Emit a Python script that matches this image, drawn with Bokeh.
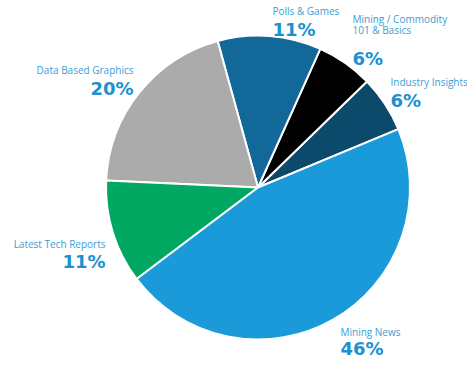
import numpy as np
from bokeh.plotting import figure
from bokeh.models import ColumnDataSource, Range1d
from bokeh.core.properties import value
from bokeh.embed import file_html
from bokeh.resources import INLINE

# ---- data ----
categories = ["Industry Insights", "Mining / Commodity\n101 & Basics", "Polls & Games",
              "Data Based Graphics", "Latest Tech Reports", "Mining News"]
shares = [6, 6, 11, 20, 11, 46]
colors = ["#0c4a6b", "#000000", "#13689a", "#ababab", "#00a862", "#1a9ad9"]
pct_labels = ["6%", "6%", "11%", "20%", "11%", "46%"]

# ---- layout (pixel coordinates of the picture) ----
W, H = 467, 359
DY = 6  # shift everything up so the bottom label fits
CX, CY, R = 257.5, 193 - DY, 152
START_DEG = 22.6
# label anchors: (x, name baseline y, pct baseline y, align)
label_layout = [
    (390, 87.5, 105.5, "left"),
    (352, 35, 64, "left"),
    (272, 16, 35, "left"),
    (133, 75, 94, "right"),
    (105, 249, 267, "right"),
    (340, 337, 354, "left"),
]

p = figure(width=W, height=H, output_backend="svg", toolbar_location=None,
           x_range=Range1d(0, W), y_range=Range1d(-H, 0), min_border=0)
p.axis.visible = False
p.grid.visible = False
p.outline_line_color = None
p.background_fill_color = "white"

vals = np.array(shares, dtype=float)
frac = vals / vals.sum()
ends = np.deg2rad(START_DEG) + 2 * np.pi * np.cumsum(frac)
starts = ends - 2 * np.pi * frac

src = ColumnDataSource(dict(start=starts, end=ends, color=colors,
                            x=[CX] * len(vals), y=[-CY] * len(vals)))
p.wedge(x="x", y="y", radius=R, start_angle="start", end_angle="end",
        fill_color="color", line_color="white", line_width=2, source=src)

name_color = "#3a9ed4"
pct_color = "#1c90d0"
for cat, pct, (lx, ny, py, al) in zip(categories, pct_labels, label_layout):
    lines = cat.split("\n")
    n = len(lines)
    for i, ln in enumerate(lines):
        yb = ny - DY - (n - 1 - i) * 10.5
        p.text(x=[lx], y=[-yb], text=[ln], text_align=al, text_baseline="alphabetic",
               text_font=value("Open Sans"), text_font_size="10px", text_color=name_color)
    p.text(x=[lx], y=[-(py - DY)], text=[pct], text_align=al, text_baseline="alphabetic",
           text_font=value("DejaVu Sans"), text_font_size="18px", text_font_style="bold",
           text_color=pct_color)

open("out.html", "w").write(file_html(p, INLINE))
